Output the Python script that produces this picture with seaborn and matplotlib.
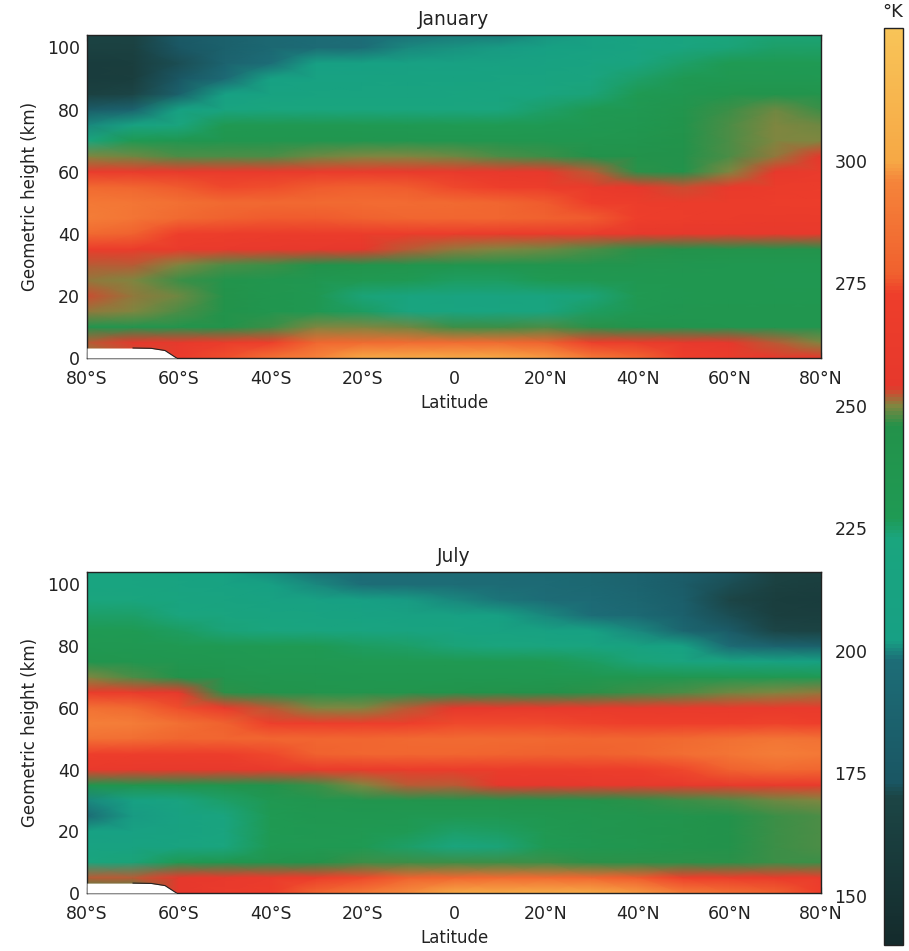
import numpy as np
import matplotlib
matplotlib.use('Agg')
import matplotlib.pyplot as plt
import seaborn as sns
from matplotlib.colors import LinearSegmentedColormap

# grid of the zonal mean temperature (K)
lats = [-80, -70, -60, -50, -40, -30, -20, -10, 0, 10, 20, 30, 40, 50, 60, 70, 80]
heights = [0, 5, 10, 15, 20, 25, 30, 35, 40, 45, 50, 55, 60, 65, 70, 75, 80, 85, 90, 95, 100, 105]

lat_ticks = [-80, -60, -40, -20, 0, 20, 40, 60, 80]
lat_labels = ['80°S', '60°S', '40°S', '20°S', '0', '20°N', '40°N', '60°N', '80°N']
height_ticks = [0, 20, 40, 60, 80, 100]
temp_ticks = [150, 175, 200, 225, 250, 275, 300]

# antarctic surface (white area)
topo_lats = [-80, -70, -66, -63, -60.5]
topo_km = [3.2, 3.2, 3.1, 2.4, 0.0]

# rows = heights (0 km first), columns = lats (80S first)
jan_temp = [
    [250, 252, 262, 275, 285, 295, 300, 302, 302, 300, 298, 290, 280, 272, 265, 258, 255],
    [252, 255, 258, 265, 272, 280, 282, 283, 283, 282, 278, 272, 265, 258, 254, 252, 250],
    [238, 239, 240, 243, 247, 250, 250, 249, 247, 247, 248, 246, 242, 238, 236, 236, 236],
    [251, 250, 248, 243, 237, 232, 226, 221, 217, 217, 220, 226, 232, 235, 236, 236, 236],
    [253, 251, 249, 244, 237, 231, 224, 219, 216, 216, 219, 224, 230, 233, 234, 234, 234],
    [251, 250, 247, 242, 237, 233, 230, 227, 226, 226, 228, 231, 233, 234, 234, 233, 233],
    [252, 252, 250, 248, 247, 245, 242, 240, 238, 238, 238, 238, 236, 235, 234, 234, 234],
    [265, 265, 262, 260, 258, 256, 254, 252, 251, 250, 249, 248, 246, 245, 244, 244, 244],
    [282, 278, 272, 268, 266, 265, 265, 265, 265, 264, 263, 262, 258, 256, 256, 257, 258],
    [292, 288, 282, 278, 276, 276, 278, 280, 280, 280, 278, 276, 272, 268, 265, 264, 264],
    [290, 289, 285, 282, 281, 282, 283, 283, 282, 280, 276, 272, 268, 266, 266, 268, 270],
    [282, 280, 276, 274, 275, 276, 277, 276, 274, 272, 268, 264, 256, 253, 260, 265, 268],
    [262, 262, 260, 260, 261, 262, 262, 261, 260, 258, 256, 252, 246, 244, 250, 256, 262],
    [250, 249, 248, 248, 248, 249, 250, 250, 249, 248, 247, 245, 243, 245, 248, 251, 254],
    [222, 228, 233, 236, 237, 237, 237, 237, 236, 236, 236, 237, 238, 243, 248, 250, 250],
    [200, 210, 222, 230, 232, 231, 230, 229, 228, 228, 229, 231, 234, 242, 248, 250, 249],
    [180, 188, 205, 218, 222, 222, 222, 222, 222, 223, 225, 228, 232, 240, 247, 249, 247],
    [165, 170, 185, 203, 212, 215, 215, 216, 217, 219, 221, 224, 228, 233, 240, 242, 240],
    [160, 162, 175, 195, 205, 209, 210, 211, 212, 214, 216, 220, 225, 229, 232, 232, 230],
    [160, 162, 172, 188, 198, 203, 205, 206, 207, 208, 210, 214, 220, 225, 228, 228, 227],
    [165, 165, 175, 185, 192, 196, 198, 200, 201, 202, 204, 208, 214, 220, 224, 225, 225],
    [168, 168, 178, 186, 192, 195, 197, 198, 199, 199, 201, 205, 212, 218, 222, 224, 224],
]

jul_temp = [
    [240, 245, 255, 262, 270, 280, 290, 297, 300, 302, 303, 302, 298, 292, 285, 278, 272],
    [252, 252, 255, 258, 262, 268, 274, 278, 280, 282, 282, 280, 276, 272, 268, 264, 262],
    [222, 224, 228, 234, 240, 244, 247, 247, 247, 247, 247, 246, 246, 246, 246, 247, 247],
    [210, 212, 215, 222, 228, 230, 228, 225, 223, 224, 228, 233, 237, 242, 245, 247, 248],
    [205, 207, 212, 220, 228, 232, 230, 227, 225, 226, 230, 235, 238, 242, 245, 247, 248],
    [197, 202, 210, 220, 228, 233, 233, 232, 231, 232, 234, 236, 238, 241, 245, 247, 248],
    [200, 205, 215, 225, 232, 236, 238, 240, 241, 242, 243, 244, 246, 247, 248, 249, 250],
    [238, 240, 242, 242, 245, 247, 250, 252, 252, 254, 255, 256, 257, 258, 259, 260, 261],
    [260, 258, 256, 257, 260, 262, 264, 265, 266, 266, 267, 268, 270, 274, 278, 282, 280],
    [272, 270, 268, 270, 274, 278, 280, 280, 280, 279, 278, 278, 280, 284, 288, 292, 290],
    [286, 284, 280, 280, 280, 280, 280, 281, 282, 282, 281, 280, 280, 282, 285, 288, 286],
    [294, 292, 285, 278, 272, 270, 270, 272, 274, 274, 274, 273, 272, 272, 272, 273, 272],
    [286, 282, 275, 262, 252, 250, 250, 252, 255, 257, 258, 259, 259, 260, 260, 260, 261],
    [266, 262, 255, 246, 242, 240, 239, 240, 242, 244, 245, 246, 247, 248, 249, 250, 251],
    [250, 248, 244, 238, 236, 235, 234, 234, 234, 234, 234, 234, 234, 233, 232, 230, 228],
    [238, 237, 235, 233, 232, 231, 230, 230, 230, 229, 228, 226, 224, 220, 215, 210, 205],
    [232, 232, 230, 229, 228, 227, 226, 225, 224, 222, 220, 217, 212, 205, 196, 188, 185],
    [228, 228, 226, 224, 222, 220, 218, 216, 214, 212, 208, 205, 200, 190, 178, 170, 168],
    [225, 225, 222, 220, 216, 213, 210, 208, 206, 204, 200, 198, 194, 184, 172, 163, 162],
    [222, 222, 218, 215, 210, 206, 203, 202, 200, 199, 197, 195, 190, 182, 170, 162, 160],
    [218, 218, 214, 210, 204, 200, 198, 197, 197, 196, 195, 192, 188, 180, 172, 165, 162],
    [218, 216, 212, 206, 200, 197, 196, 196, 196, 195, 194, 192, 188, 182, 174, 168, 165],
]

vmin, vmax = 140, 327
cmap_stops = [(140, '#142b2c'), (170, '#1c4545'), (173, '#1a5663'), (198, '#1d6d77'),
              (202, '#17a084'), (223, '#1aa57e'), (227, '#1f9a54'), (246, '#23924a'),
              (250, '#7f8640'), (254, '#e6382c'), (273, '#ee3e2b'), (277, '#f0602e'),
              (296, '#f5843a'), (300, '#f6a845'), (327, '#f8c458')]
cmap = LinearSegmentedColormap.from_list(
    'temp', [((v - vmin) / (vmax - vmin), c) for v, c in cmap_stops])

sns.set_style('ticks')
plt.rcParams['font.family'] = ['DejaVu Sans']

fig = plt.figure(figsize=(9.09, 9.51), dpi=100)
ax_jan = fig.add_axes([0.0957, 0.6236, 0.8075, 0.3396])
ax_jul = fig.add_axes([0.0957, 0.0610, 0.8075, 0.3375])
cax = fig.add_axes([0.9725, 0.0063, 0.0209, 0.964])

lat_idx = np.arange(len(lats))
h_idx = np.arange(len(heights))


def to_x(v):
    return np.interp(v, lats, lat_idx)


def to_y(v):
    return np.interp(v, heights, h_idx)


def panel(ax, temp, title):
    sns.heatmap(np.array(temp, dtype=float), ax=ax, cmap=cmap, vmin=vmin, vmax=vmax,
                cbar=False, xticklabels=False, yticklabels=False,
                shading='gouraud', linewidths=0)
    ax.set_xlim(0, len(lats) - 1)
    ax.set_ylim(0, to_y(104))
    ax.fill_between(to_x(topo_lats), 0, to_y(topo_km), color='white', lw=0, zorder=3)
    ax.plot(to_x(topo_lats[1:]), to_y(topo_km[1:]), color='#222222', lw=0.8, zorder=4)
    for s in ax.spines.values():
        s.set_visible(True)
        s.set_color('#222222')
        s.set_linewidth(1.0)
    ax.set_xticks(to_x(lat_ticks))
    ax.set_xticklabels(lat_labels)
    ax.set_yticks(to_y(height_ticks))
    ax.set_yticklabels([str(h) for h in height_ticks])
    ax.tick_params(direction='in', length=4, width=0.8, top=True, labelsize=12.5,
                   colors='#222222')
    ax.tick_params(axis='x', pad=9)
    ax.tick_params(axis='y', pad=5, length=0)
    ax.set_xlabel('Latitude', fontsize=12, labelpad=4, color='#222222')
    ax.set_ylabel('Geometric height (km)', fontsize=12, labelpad=6, color='#222222')
    ax.set_title(title, fontsize=13.5, pad=7, color='#222222')


panel(ax_jan, jan_temp, 'January')
panel(ax_jul, jul_temp, 'July')

cb = fig.colorbar(ax_jan.collections[0], cax=cax)
cb.set_ticks(temp_ticks)
cb.outline.set_edgecolor('#222222')
cb.outline.set_linewidth(1.0)
cax.yaxis.set_ticks_position('left')
cax.tick_params(length=0, pad=12, labelsize=12.5, colors='#222222')
fig.text(0.982, 0.987, '°K', ha='center', va='center', fontsize=13, color='#222222')

fig.savefig('out.png', dpi=100)
